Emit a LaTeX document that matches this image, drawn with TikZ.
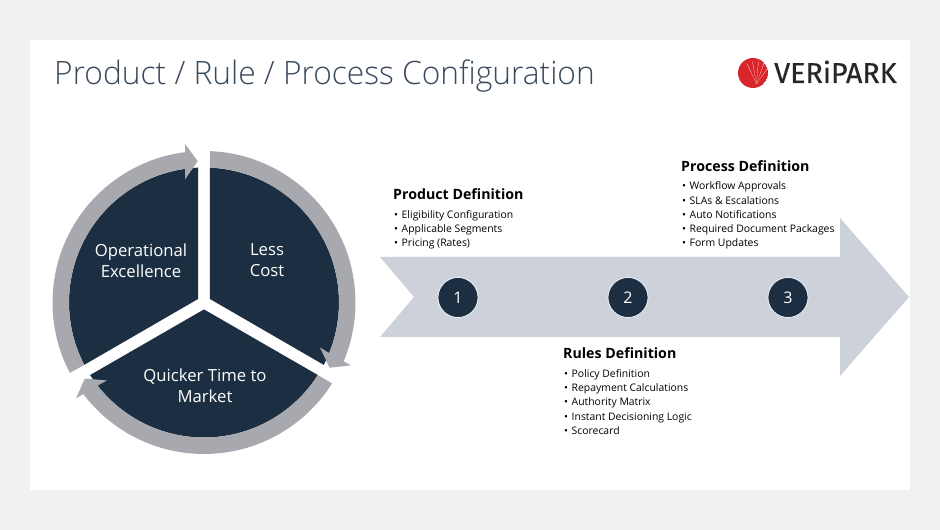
\documentclass[tikz,border=0pt]{standalone}
\usepackage{fontspec}
\setmainfont{Open Sans}
\newfontfamily\logofont[FakeBold=0.5]{Fira Sans}
\newfontfamily\titlefont[UprightFont={* Light},FakeStretch=0.985]{Open Sans}
\definecolor{pagebg}{HTML}{F0F1F3}
\definecolor{navy}{HTML}{1C2E42}
\definecolor{ringgrey}{HTML}{A7A9AE}
\definecolor{bandgrey}{HTML}{CDD2DA}
\definecolor{titleink}{HTML}{3A4A5E}
\definecolor{logored}{HTML}{D9262B}
\definecolor{logoink}{HTML}{262626}
\tikzset{
  x=1pt,y=1pt,
  wheeltext/.style={text=white,align=center,inner sep=0pt,font=\fontsize{16.7}{21}\selectfont},
  heading/.style={anchor=west,inner sep=0pt,text=black,font=\fontsize{14.2}{17}\selectfont\bfseries},
  itemlist/.style={anchor=west,inner sep=0pt,text=black,align=left,font=\fontsize{10.4}{14.2}\selectfont},
  stepdot/.style={circle,minimum size=40pt,inner sep=0pt,fill=navy,draw=white,line width=0.7pt,text=white,font=\fontsize{16}{18}\selectfont},
}
\newcommand{\itm}{•\hspace{3.6pt}}
\begin{document}
\begin{tikzpicture}
\useasboundingbox (0,0) rectangle (940,530);
\fill[pagebg] (0,0) rectangle (940,530);
\fill[white] (30,40) rectangle (910,490);
\node[anchor=base west,inner sep=0pt,text=titleink,font=\titlefont\fontsize{32.2}{36}\selectfont] (title) at (54,445) {Product / Rule / Process Configuration};
% logo
\begin{scope}
  \clip (753,457) circle (15);
  \fill[logored] (753,457) circle (15);
  \foreach \a in {-30,-15,0,15,30}
    \fill[white] (756.5,446) -- ++(90+\a-4.5:23) -- ++(-90+\a+4.5:1.8) -- cycle;
\end{scope}
\node[anchor=base west,inner sep=0pt,text=logoink,font=\logofont\fontsize{28.7}{30}\selectfont] (logo) at (774,447) {VERiPARK};
% wheel
\begin{scope}[shift={(204,227.5)}]
  \foreach \r in {0,-120,-240} {
    \begin{scope}[rotate=\r]
      \fill[navy] (-6,3.46) -- (92.5:135) arc[start angle=92.5,end angle=207.5,radius=135] -- cycle;
      \fill[ringgrey] (207.7:151.5) arc[start angle=207.7,end angle=97.2,radius=151.5]
        -- (-19,158.7) -- (-6.3,141.3) -- (-19,123) -- (98:135)
        arc[start angle=98,end angle=207.5,radius=135] -- cycle;
    \end{scope}
  }
\end{scope}
\node[wheeltext] (opex) at (141,269.5) {Operational\\Excellence};
\node[wheeltext] (less) at (267,269.5) {Less\\Cost};
\node[wheeltext] (quick) at (205,144) {Quicker Time to\\Market};
% band arrow
\fill[bandgrey] (380,273) -- (840,273) -- (840,312) -- (909,233) -- (840,154) -- (840,193) -- (380,193) -- (414,233) -- cycle;
\node[stepdot] (s1) at (458,232.5) {1};
\node[stepdot] (s2) at (628,232.5) {2};
\node[stepdot] (s3) at (788,232.5) {3};
% texts
\node[heading] (h1) at (393,336) {Product Definition};
\node[itemlist] (l1) at (394,300) {\itm Eligibility Configuration\\\itm Applicable Segments\\\itm Pricing (Rates)};
\node[heading] (h2) at (563,177) {Rules Definition};
\node[itemlist] (l2) at (564,128) {\itm Policy Definition\\\itm Repayment Calculations\\\itm Authority Matrix\\\itm Instant Decisioning Logic\\\itm Scorecard};
\node[heading] (h3) at (681,364) {Process Definition};
\node[itemlist] (l3) at (682,314.5) {\itm Workflow Approvals\\\itm SLAs \& Escalations\\\itm Auto Notifications\\\itm Required Document Packages\\\itm Form Updates};
\end{tikzpicture}
\end{document}
